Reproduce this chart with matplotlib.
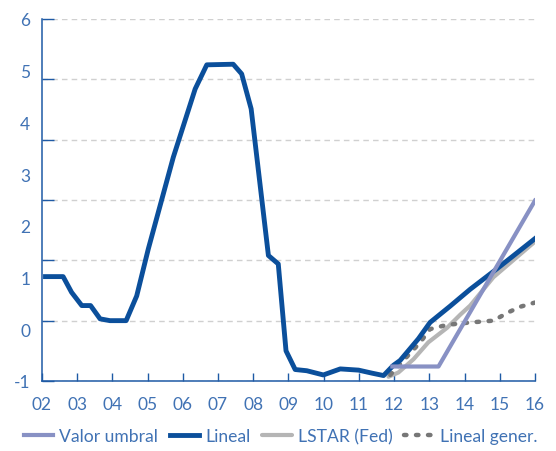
import numpy as np
import matplotlib
matplotlib.use("Agg")
import matplotlib.pyplot as plt

# Fed funds rate (historical + "Lineal" projection)
lineal_x = [2002.1, 2002.6, 2002.84, 2003.13, 2003.38, 2003.65, 2003.93, 2004.39,
            2004.69, 2005.02, 2005.73, 2006.35, 2006.68, 2007.43, 2007.67, 2007.94,
            2008.43, 2008.71, 2008.93, 2009.19, 2009.52, 2009.99, 2010.47, 2010.99,
            2011.37, 2011.70, 2011.98, 2012.17, 2012.69, 2013.02, 2013.59, 2014.16,
            2014.92, 2016.0]
lineal_y = [1.73, 1.73, 1.47, 1.25, 1.25, 1.03, 1.0, 1.0,
            1.41, 2.19, 3.71, 4.84, 5.24, 5.25, 5.09, 4.51,
            2.08, 1.94, 0.5, 0.19, 0.17, 0.10, 0.20, 0.18,
            0.13, 0.09, 0.26, 0.34, 0.70, 0.97, 1.24, 1.52,
            1.86, 2.36]

umbral_x = [2011.95, 2013.26, 2016.0]
umbral_y = [0.24, 0.24, 2.99]

lstar_x = [2011.84, 2012.12, 2012.55, 2012.97, 2013.5, 2013.88, 2014.16, 2014.82, 2016.0]
lstar_y = [0.07, 0.14, 0.36, 0.64, 0.88, 1.10, 1.25, 1.72, 2.31]

gener_x = [2011.89, 2012.17, 2012.74, 2013.02, 2013.5, 2014.16, 2014.82, 2015.25, 2015.58, 2016.0]
gener_y = [0.10, 0.28, 0.64, 0.86, 0.93, 0.97, 1.0, 1.14, 1.23, 1.30]

years = list(range(2002, 2017))
year_labels = ["%02d" % (y % 100) for y in years]
ylabels = ["6", "5", "4", "3", "2", "1", "0", "-1"]

blue_txt = "#4072b4"
spine_c = "#1e5aa5"

plt.rcParams['font.family'] = ['Lato', 'DejaVu Sans']

fig = plt.figure(figsize=(5.56, 4.52), dpi=100)
ax = fig.add_axes([0.0755, 0.1549, 0.8867, 0.8009])

ax.plot(lstar_x, lstar_y, color="#b5b5b5", lw=3.0, solid_capstyle="round", label="LSTAR (Fed)")
ax.plot(gener_x, gener_y, color="#777777", lw=3.2, linestyle=(0, (0.55, 2.15)),
        dash_capstyle="round", label="Lineal gener.")
ax.plot(lineal_x, lineal_y, color="#0b4f9b", lw=3.5, solid_joinstyle="round", label="Lineal")
ax.plot(umbral_x, umbral_y, color="#8891c4", lw=3.0, label="Valor umbral")

ax.set_xlim(2002, 2016)
ax.set_ylim(0, 6)

for s in ["top", "right"]:
    ax.spines[s].set_visible(False)
for s in ["left", "bottom"]:
    ax.spines[s].set_color(spine_c)
    ax.spines[s].set_linewidth(1.1)

ax.set_xticks(years)
ax.set_xticklabels(year_labels)
ax.tick_params(axis="x", direction="in", length=5.8, width=1, color=spine_c,
               labelsize=12.5, labelcolor=blue_txt, pad=11)

# tick marks at integers, labels spread evenly as in the original
ax.yaxis.remove_overlapping_locs = False
ax.set_yticks(range(0, 7))
ax.set_yticklabels([])
ax.set_yticks(np.linspace(6, 0, 8), minor=True)
ax.set_yticklabels(ylabels, minor=True)
ax.tick_params(axis="y", which="major", direction="in", length=8.6, width=1, color=spine_c)
ax.tick_params(axis="y", which="minor", length=0, labelsize=12.5, labelcolor=blue_txt, pad=8.5)

ax.yaxis.grid(True, which="major", color="#d0d0d0", lw=1, linestyle=(0, (4, 3)))

h, l = ax.get_legend_handles_labels()
order = [3, 2, 0, 1]
leg = fig.legend([h[i] for i in order], [l[i] for i in order], loc="center",
                 bbox_to_anchor=(0.5045, 0.033), ncol=4, frameon=False,
                 fontsize=12.6, handlelength=1.7, handletextpad=0.35,
                 columnspacing=0.65, borderaxespad=0)
for t in leg.get_texts():
    t.set_color(blue_txt)

fig.savefig("out.png", dpi=100)
